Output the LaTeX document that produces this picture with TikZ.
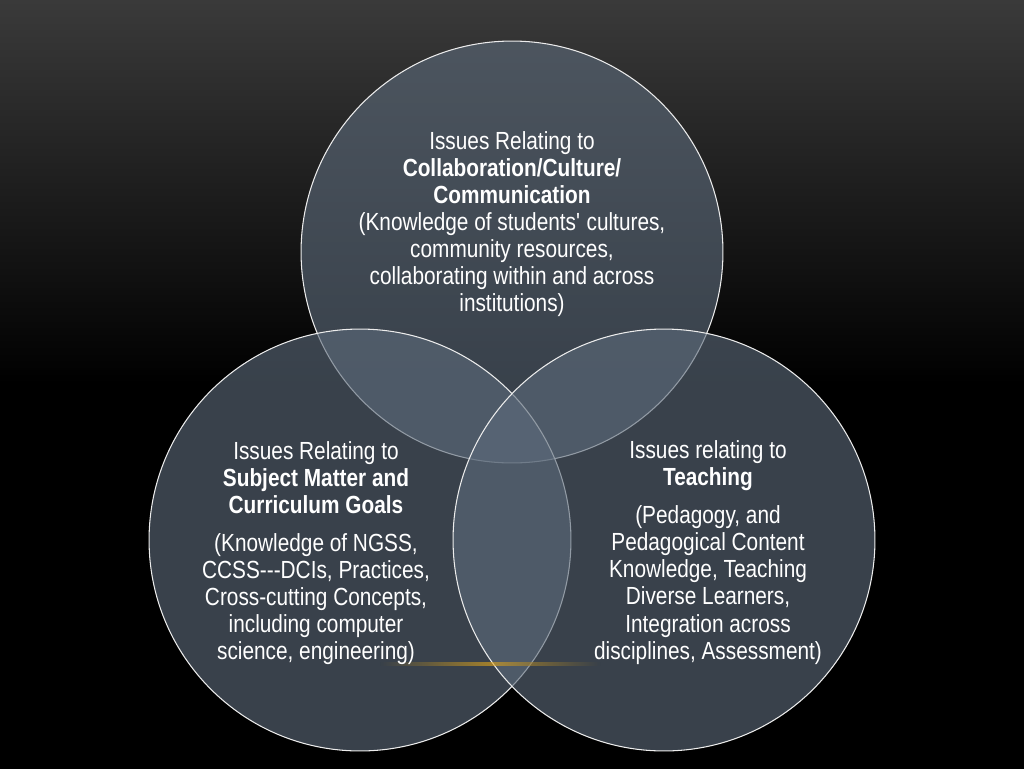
\documentclass[tikz,border=0pt]{standalone}
\usepackage{fontspec}
\setmainfont[FakeStretch=0.84]{Liberation Sans}
\usetikzlibrary{positioning}
\definecolor{circfill}{RGB}{92,106,122}
\definecolor{bgtop}{RGB}{58,58,58}
\begin{document}
\begin{tikzpicture}[x=0.02cm,y=-0.02cm,
  venn/.style={circle, draw=white!85!gray, line width=0.6pt, fill=circfill, fill opacity=0.62, minimum size=8.44cm},
  vtext/.style={text=white, align=center, font=\fontsize{14.1}{15.4}\selectfont}]
  % background
  \shade[top color=bgtop, bottom color=black, middle color=black] (0,0) rectangle (1024,768);
  \useasboundingbox (0,0) rectangle (1024,768);
  \node (top) at (512,252) [venn] {};
  \node (left) at (360,540) [venn] {};
  \node (right) at (664,540) [venn] {};
  % faint golden line
  \shade[left color=circfill!60!black, right color=circfill!60!black, middle color=orange!60!yellow!80!gray, opacity=0.6] (380,662) rectangle (600,665);
  % texts
  \node (ttop) at (512,224) [vtext] {Issues Relating to\\\textbf{Collaboration/Culture/}\\\textbf{Communication}\\(Knowledge of students\textquotesingle{} cultures,\\community resources,\\collaborating within and across\\institutions)};
  \node (tlefth) at (316,478) [vtext] {Issues Relating to\\\textbf{Subject Matter and}\\\textbf{Curriculum Goals}};
  \node (tleftb) at (316,599) [vtext] {(Knowledge of NGSS,\\CCSS-{}-{}-DCIs, Practices,\\Cross-cutting Concepts,\\including computer\\science, engineering)};
  \node (trighth) at (708,466) [vtext] {Issues relating to\\\textbf{Teaching}};
  \node (trightb) at (708,585) [vtext] {(Pedagogy, and\\Pedagogical Content\\Knowledge, Teaching\\Diverse Learners,\\Integration across\\disciplines, Assessment)};
\end{tikzpicture}
\end{document}
